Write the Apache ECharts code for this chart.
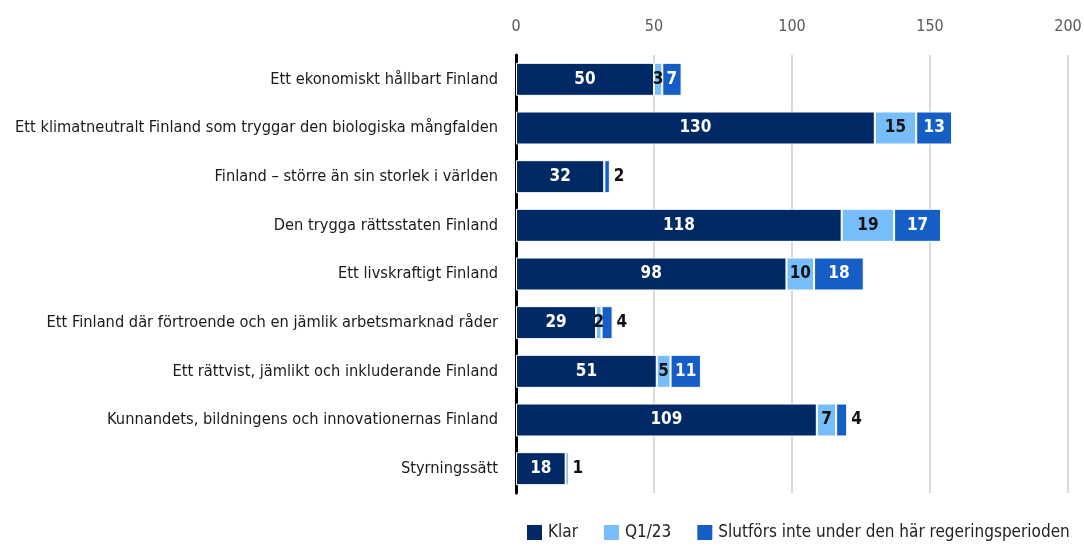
<!DOCTYPE html>
<html>
<head>
<meta charset="utf-8">
<script src="https://cdn.jsdelivr.net/npm/echarts@6/dist/echarts.min.js"></script>
<style>
  html, body { margin: 0; padding: 0; background: #fff; }
  #chart { width: 1084px; height: 547px; }
</style>
</head>
<body>
<div id="chart"></div>
<script>
  const categories = [
    "Ett ekonomiskt hållbart Finland",
    "Ett klimatneutralt Finland som tryggar den biologiska mångfalden",
    "Finland – större än sin storlek i världen",
    "Den trygga rättsstaten Finland",
    "Ett livskraftigt Finland",
    "Ett Finland där förtroende och en jämlik arbetsmarknad råder",
    "Ett rättvist, jämlikt och inkluderande Finland",
    "Kunnandets, bildningens och innovationernas Finland",
    "Styrningssätt"
  ];
  const klar = [50, 130, 32, 118, 98, 29, 51, 109, 18];
  const q123 = [3, 15, 0, 19, 10, 2, 5, 7, 0];
  const slutfors = [7, 13, 2, 17, 18, 4, 11, 4, 1];
  const xTicks = [0, 50, 100, 150, 200];

  const font = '"DejaVu Sans Condensed", "Liberation Sans Narrow", sans-serif';

  // smaller pieces get their label outside, in black
  const slutData = slutfors.map((v) => {
    if (v < 5) {
      return { value: v, label: { position: "right", color: "#111", distance: 4 } };
    }
    return v;
  });
  const q1Data = q123.map((v) => (v === 0 ? { value: 0, label: { show: false } } : v));

  const myChart = echarts.init(document.getElementById("chart"));
  const option = {
    animation: false,
    textStyle: { fontFamily: font },
    grid: { left: 516, right: 16, top: 55, bottom: 54, outerBoundsMode: "none", containLabel: false },
    legend: {
      bottom: 0,
      left: 520,
      width: 564,
      itemWidth: 17,
      itemHeight: 17,
      itemGap: 24,
      icon: "rect",
      textStyle: { fontFamily: font, fontSize: 17, color: "#222" },
      data: ["Klar", "Q1/23", "Slutförs inte under den här regeringsperioden"]
    },
    xAxis: {
      type: "value",
      position: "top",
      min: 0,
      max: 200,
      interval: 50,
      axisLine: { show: false },
      axisTick: { show: false },
      axisLabel: {
        fontFamily: font, fontSize: 16, color: "#595959", margin: 20,
        formatter: (v) => (xTicks.includes(v) ? String(v) : "")
      },
      splitLine: { lineStyle: { color: "#d9d9d9", width: 2 } }
    },
    yAxis: {
      type: "category",
      data: categories,
      inverse: true,
      axisTick: { show: false },
      axisLine: { lineStyle: { color: "#000", width: 3 } },
      axisLabel: { fontFamily: font, fontSize: 16.3, color: "#1a1a1a", margin: 18 }
    },
    series: [
      {
        name: "Klar",
        type: "bar",
        stack: "total",
        data: klar,
        barWidth: 33,
        itemStyle: { color: "#002966", borderColor: "#fff", borderWidth: 1 },
        label: { show: true, position: "inside", color: "#fff", fontWeight: "bold", fontSize: 17, fontFamily: font }
      },
      {
        name: "Q1/23",
        type: "bar",
        stack: "total",
        data: q1Data,
        itemStyle: { color: "#78bdfb", borderColor: "#fff", borderWidth: 1 },
        label: { show: true, position: "inside", color: "#111", fontWeight: "bold", fontSize: 17, fontFamily: font }
      },
      {
        name: "Slutförs inte under den här regeringsperioden",
        type: "bar",
        stack: "total",
        data: slutData,
        itemStyle: { color: "#145ec6", borderColor: "#fff", borderWidth: 1 },
        label: { show: true, position: "inside", color: "#fff", fontWeight: "bold", fontSize: 17, fontFamily: font }
      }
    ]
  };
  myChart.setOption(option);
</script>
</body>
</html>
